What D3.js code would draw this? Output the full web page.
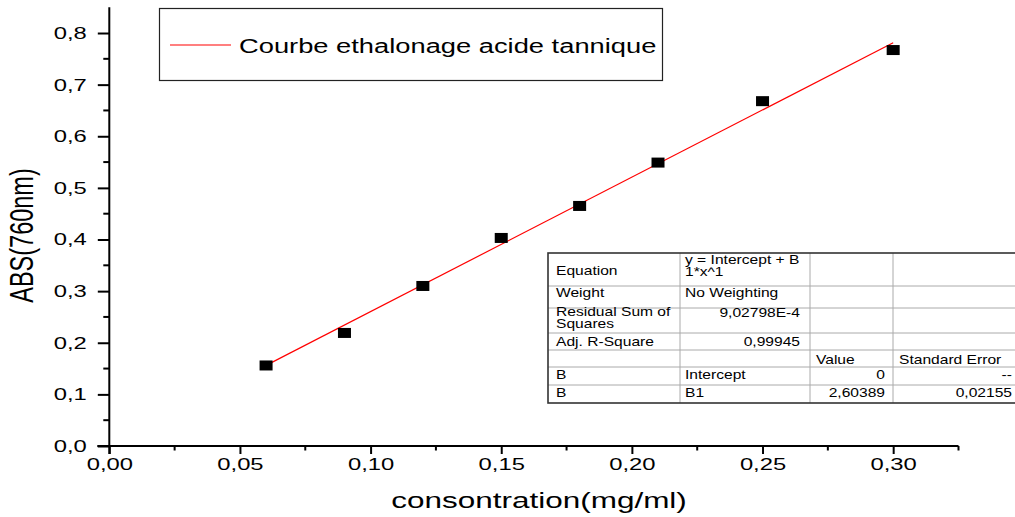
<!DOCTYPE html>
<html>
<head>
<meta charset="utf-8">
<script src="https://cdn.jsdelivr.net/npm/d3@7"></script>
<style>
  html, body { margin: 0; padding: 0; background: #fff; }
  svg { display: block; font-family: "Liberation Sans", Arial, sans-serif; }
</style>
</head>
<body>
<svg id="chart" width="1015" height="517"></svg>
<script>
// Calibration data: tannic acid concentration vs absorbance at 760 nm
const concentration = [0.06, 0.09, 0.12, 0.15, 0.18, 0.21, 0.25, 0.30];
const absorbance    = [0.156, 0.219, 0.310, 0.403, 0.465, 0.549, 0.668, 0.767];

// Linear fit through the origin: y = Intercept + B1*x
const fitIntercept = 0;
const fitSlope = 2.60389;
const fitRange = [0.06, 0.30];

const xTickValues = [0, 0.05, 0.10, 0.15, 0.20, 0.25, 0.30];
const yTickValues = [0, 0.1, 0.2, 0.3, 0.4, 0.5, 0.6, 0.7, 0.8];

const legendLabel = "Courbe ethalonage acide tannique";
const xTitle = "consontration(mg/ml)";
const yTitle = "ABS(760nm)";

// Fit statistics table rows (cells per column)
const tableRows = [
  ["Equation", ["y = Intercept + B", "1*x^1"], "", ""],
  ["Weight", "No Weighting", "", ""],
  [["Residual Sum of", "Squares"], "9,02798E-4", "", ""],
  ["Adj. R-Square", "0,99945", "", ""],
  ["", "", "Value", "Standard Error"],
  ["B", "Intercept", "0", "--"],
  ["B", "B1", "2,60389", "0,02155"]
];

const svg = d3.select("#chart");
const SX = 1.4; // horizontal glyph stretch used by this figure's text
const fmt = (d, n) => d.toFixed(n).replace(".", ",");

const x = d3.scaleLinear().domain([0, 0.325]).range([109.3, 958.5]);
const y = d3.scaleLinear().domain([0, 0.85]).range([446, 7.2]);

// ---- axes ----
const xAxis = d3.axisBottom(x).tickValues(xTickValues).tickSize(8).tickPadding(4)
  .tickFormat(d => fmt(d, 2));
const gx = svg.append("g").attr("transform", `translate(0,${y(0)})`).call(xAxis);

const yAxis = d3.axisLeft(y).tickValues(yTickValues).tickSize(11.5).tickPadding(11)
  .tickFormat(d => fmt(d, 1));
const gy = svg.append("g").attr("transform", `translate(${x(0)},0)`).call(yAxis);

[gx, gy].forEach(g => {
  g.select(".domain").attr("stroke", "#000").attr("stroke-width", 2);
  g.selectAll(".tick line").attr("stroke", "#000").attr("stroke-width", 2);
  g.selectAll(".tick text").attr("fill", "#000").attr("font-size", 17)
    .attr("font-family", "Liberation Sans, Arial, sans-serif");
});
// plain axis lines without end caps
gx.select(".domain").attr("d", `M${x(0) - 12},0H${x(0.325)}`);
gy.select(".domain").attr("d", `M0,${y(0) + 8}V${y(0.85)}`);

// stretch tick labels horizontally
gx.selectAll(".tick text").attr("transform", `scale(${SX},1)`);
gy.selectAll(".tick text")
  .attr("x", -(11.5 + 11) / SX).attr("transform", `scale(${SX},1)`);

// minor ticks
const xMinor = d3.range(0.025, 0.33, 0.05);
svg.append("g").selectAll("line").data(xMinor).join("line")
  .attr("x1", d => x(d)).attr("x2", d => x(d))
  .attr("y1", y(0)).attr("y2", y(0) + 4.5)
  .attr("stroke", "#000").attr("stroke-width", 2);
const yMinor = d3.range(0.05, 0.85, 0.1);
svg.append("g").selectAll("line").data(yMinor).join("line")
  .attr("x1", x(0) - 6).attr("x2", x(0))
  .attr("y1", d => y(d)).attr("y2", d => y(d))
  .attr("stroke", "#000").attr("stroke-width", 2);

// axis titles
svg.append("text")
  .attr("transform", `translate(539,508) scale(${SX},1)`)
  .attr("text-anchor", "middle").attr("font-size", 22.5).attr("fill", "#000")
  .text(xTitle);
svg.append("text")
  .attr("transform", `translate(33,235.5) scale(${SX},1) rotate(-90)`)
  .attr("text-anchor", "middle").attr("font-size", 23.5).attr("fill", "#000")
  .text(yTitle);

// ---- fit line ----
const line = d3.line().x(d => x(d)).y(d => y(fitIntercept + fitSlope * d));
svg.append("path").datum(fitRange).attr("d", line)
  .attr("fill", "none").attr("stroke", "#ff0000").attr("stroke-width", 1.2);

// ---- data points ----
svg.append("g").selectAll("rect").data(concentration).join("rect")
  .attr("x", d => x(d) - 6.5)
  .attr("y", (d, i) => y(absorbance[i]) - 5)
  .attr("width", 13).attr("height", 10)
  .attr("fill", "#000");

// ---- legend ----
const lg = svg.append("g");
lg.append("rect").attr("x", 159.5).attr("y", 8.5).attr("width", 503).attr("height", 72)
  .attr("fill", "#fff").attr("stroke", "#222").attr("stroke-width", 1.2);
lg.append("line").attr("x1", 170).attr("x2", 231).attr("y1", 45).attr("y2", 45)
  .attr("stroke", "#ff0000").attr("stroke-width", 1.2);
lg.append("text").attr("transform", `translate(239,53) scale(${SX},1)`)
  .attr("font-size", 19.5).attr("fill", "#000").text(legendLabel);

// ---- fit statistics table ----
const TS = 1.3;
const colX = [548, 680, 810, 893, 1030];
const rowY = [253, 286, 308, 333, 350, 367, 385, 403];
const tg = svg.append("g");
tg.append("rect").attr("x", colX[0]).attr("y", rowY[0])
  .attr("width", colX[4] - colX[0]).attr("height", rowY[7] - rowY[0])
  .attr("fill", "#fff");
// inner grid
rowY.slice(1, 7).forEach(ry => tg.append("line")
  .attr("x1", colX[0]).attr("x2", colX[4]).attr("y1", ry).attr("y2", ry)
  .attr("stroke", "#aaa").attr("stroke-width", 1));
colX.slice(1, 4).forEach(cx => tg.append("line")
  .attr("x1", cx).attr("x2", cx).attr("y1", rowY[0]).attr("y2", rowY[7])
  .attr("stroke", "#aaa").attr("stroke-width", 1));
// outer frame
tg.append("rect").attr("x", colX[0]).attr("y", rowY[0])
  .attr("width", colX[4] - colX[0]).attr("height", rowY[7] - rowY[0])
  .attr("fill", "none").attr("stroke", "#333").attr("stroke-width", 1.6);

// baselines: single-line cells, and first line of two-line cells
const rowBase  = [275, 297, 317, 346, 364, 379, 397];
const rowBase2 = [264, 297, 316, 346, 364, 379, 397];
const LINE_GAP = 12;

function cellText(lines, cx, cy, anchor) {
  const t = tg.append("text").attr("transform", `translate(${cx},${cy}) scale(${TS},1)`)
    .attr("text-anchor", anchor).attr("font-size", 12).attr("fill", "#000");
  lines.forEach((s, k) => t.append("tspan").attr("x", 0).attr("y", k * LINE_GAP).text(s));
}
tableRows.forEach((row, r) => {
  row.forEach((cell, c) => {
    if (cell === "") return;
    const lines = Array.isArray(cell) ? cell : [cell];
    let cx, anchor;
    if (c === 0) { cx = 556; anchor = "start"; }
    else if (c === 1) {
      // numeric results in the second column are right aligned
      if (r === 2 || r === 3) { cx = 800; anchor = "end"; } else { cx = 685; anchor = "start"; }
    }
    else if (c === 2) {
      if (r === 4) { cx = 816; anchor = "start"; } else { cx = 885; anchor = "end"; }
    }
    else {
      if (r === 4) { cx = 899; anchor = "start"; }
      else { cx = 1012; anchor = "end"; }
    }
    const base = lines.length > 1 ? rowBase2[r] : rowBase[r];
    cellText(lines, cx, base, anchor);
  });
});
</script>
</body>
</html>
